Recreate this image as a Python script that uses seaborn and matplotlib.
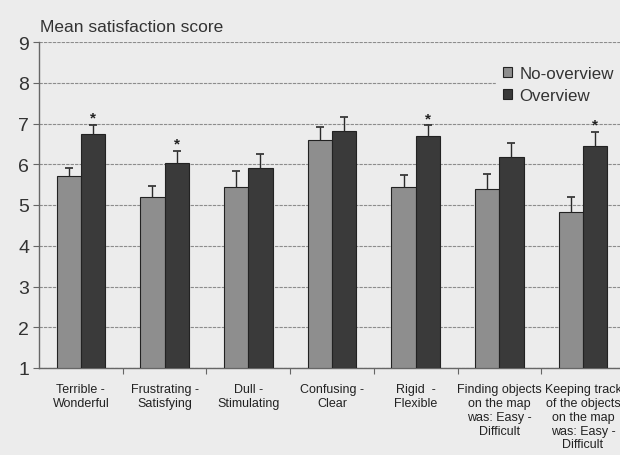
import matplotlib
matplotlib.use("Agg")
import matplotlib.pyplot as plt
from matplotlib.ticker import FixedLocator
import numpy as np
import pandas as pd
import seaborn as sns

# Rating scales (x categories)
categories = [
    "Terrible -\nWonderful",
    "Frustrating -\nSatisfying",
    "Dull -\nStimulating",
    "Confusing -\nClear",
    "Rigid  -\nFlexible",
    "Finding objects\non the map\nwas: Easy -\nDifficult",
    "Keeping track\nof the objects\non the map\nwas: Easy -\nDifficult",
]
conditions = ["No-overview", "Overview"]

# Mean satisfaction scores per condition
no_overview_mean = [5.71, 5.20, 5.44, 6.60, 5.44, 5.40, 4.83]
overview_mean = [6.75, 6.03, 5.91, 6.82, 6.70, 6.19, 6.45]

# Upper error (standard error) per condition
no_overview_err = [0.20, 0.27, 0.39, 0.32, 0.29, 0.35, 0.37]
overview_err = [0.22, 0.30, 0.34, 0.34, 0.26, 0.33, 0.35]

# Scales with a significant difference between conditions
significant = [True, True, False, False, True, False, True]

yticks = [1, 2, 3, 4, 5, 6, 7, 8, 9]

BG = "#ececec"
colors = {"No-overview": "#8e8e8e", "Overview": "#3a3a3a"}

df = pd.DataFrame({
    "scale": categories * 2,
    "condition": ["No-overview"] * len(categories) + ["Overview"] * len(categories),
    "score": no_overview_mean + overview_mean,
})

sns.set_theme(style="white")
plt.rcParams["font.family"] = ["Liberation Sans", "DejaVu Sans"]

fig = plt.figure(figsize=(6.2, 4.56), dpi=100, facecolor=BG)
ax = fig.add_axes([39 / 620, 1 - 369 / 456, 1 - 39 / 620, (369 - 43) / 456])
ax.set_facecolor(BG)

sns.barplot(
    data=df, x="scale", y="score", hue="condition",
    order=categories, hue_order=conditions, palette=colors,
    errorbar=None, width=0.58, gap=0, edgecolor="#222222", linewidth=0.8,
    saturation=1, ax=ax, zorder=3,
)

# Bottom of the bars is the axis floor at 1
ax.set_ylim(1, 9)
for p in ax.patches:
    h = p.get_height()
    p.set_y(1)
    p.set_height(h - 1)

# One-sided error bars and significance stars
errs = {"No-overview": no_overview_err, "Overview": overview_err}
means = {"No-overview": no_overview_mean, "Overview": overview_mean}
bars = [p for p in ax.patches if p.get_width() > 0][: 2 * len(categories)]
for k, cond in enumerate(conditions):
    group = bars[k * len(categories):(k + 1) * len(categories)]
    xs = np.array([p.get_x() + p.get_width() / 2 for p in group])
    ys = np.array(means[cond])
    e = np.array(errs[cond])
    _, caps, _ = ax.errorbar(xs, ys, yerr=[np.zeros_like(e), e], fmt="none",
                             ecolor="#2a2a2a", elinewidth=1.0, capsize=3,
                             capthick=1.2, zorder=4)
    # keep only the upper cap
    caps[0].set_visible(False)
    if cond == "Overview":
        for x, y, err, sig in zip(xs, ys, e, significant):
            if sig:
                ax.annotate("*", (x, y + err), xytext=(0, 0), textcoords="offset points",
                            ha="center", va="bottom", fontsize=11, color="#222222",
                            fontweight="bold")

ax.set_xlim(-0.5, -0.5 + 581 / 83.7)

# Axes styling
ax.set_yticks(yticks)
ax.set_yticklabels([str(t) for t in yticks], fontsize=14, color="#333333")
ax.yaxis.grid(True, color="#8c8c8c", linewidth=0.8, linestyle=(0, (3, 1)), zorder=0)
ax.xaxis.grid(False)
ax.set_axisbelow(True)
ax.tick_params(axis="y", left=True, length=4, width=0.8, color="#666666", pad=3)
ax.tick_params(axis="x", which="major", length=0, pad=11, labelsize=9, labelcolor="#222222")
ax.xaxis.set_minor_locator(FixedLocator(np.arange(0.5, len(categories), 1.0)))
ax.tick_params(axis="x", which="minor", bottom=True, length=4, width=0.8, color="#666666")
ax.set_xticks(range(len(categories)))
ax.set_xticklabels(categories, fontsize=9, linespacing=1.2, va="top")
for s in ["top", "right"]:
    ax.spines[s].set_visible(False)
for s in ["left", "bottom"]:
    ax.spines[s].set_color("#666666")
    ax.spines[s].set_linewidth(1.0)
ax.set_xlabel("")
ax.set_ylabel("")

fig.text(40 / 620, 1 - 32 / 456, "Mean satisfaction score", fontsize=12.5,
         color="#333333", ha="left", va="baseline")

handles, labels = ax.get_legend_handles_labels()
ax.legend(handles, labels, loc="upper left",
          bbox_to_anchor=(488 / 620, 1 - 52 / 456), bbox_transform=fig.transFigure,
          frameon=True, facecolor=BG, edgecolor=BG, framealpha=1,
          fontsize=12.2, handlelength=0.5, handleheight=0.5,
          handletextpad=0.45, labelspacing=0.4, borderpad=0.4,
          fancybox=False, labelcolor="#333333")

fig.savefig("out.png", dpi=100, facecolor=BG)
